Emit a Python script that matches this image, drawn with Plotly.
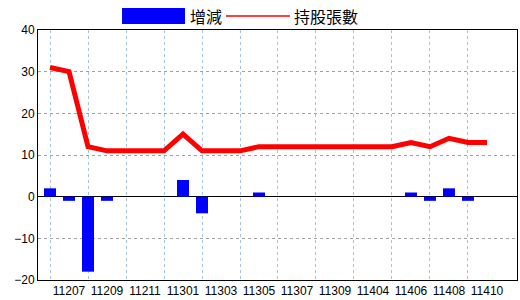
import plotly.graph_objects as go

months = ["11206", "11207", "11208", "11209", "11210", "11211", "11212", "11301",
          "11302", "11303", "11304", "11305", "11306", "11307", "11308", "11309",
          "11403", "11404", "11405", "11406", "11407", "11408", "11409", "11410"]
change = [2, -1, -18, -1, 0, 0, 0, 4, -4, 0, 0, 1, 0, 0, 0, 0,
          0, 0, 0, 1, -1, 2, -1, 0]
holders = [31, 30, 12, 11, 11, 11, 11, 15, 11, 11, 11, 12, 12, 12, 12, 12,
           12, 12, 12, 13, 12, 14, 13, 13]
y_ticks = [-20, -10, 0, 10, 20, 30, 40]

idx = list(range(len(months)))
label_idx = [i for i in idx if i % 2 == 1]
grid_idx = [i for i in idx if i % 2 == 0]

num_font = "Liberation Sans, Arial, sans-serif"
cjk_font = "Noto Sans CJK TC, sans-serif"

fig = go.Figure()
fig.add_trace(go.Bar(x=idx, y=change, marker=dict(color="#0000FF", line=dict(width=0)),
                     width=0.63, name="增減", showlegend=False))
fig.add_trace(go.Scatter(x=idx, y=holders, mode="lines",
                         line=dict(color="#FF0000", width=5), name="持股張數", showlegend=False))

fig.update_layout(
    width=520, height=300,
    margin=dict(l=38, r=3, t=30, b=20),
    paper_bgcolor="white", plot_bgcolor="white",
    font=dict(family=num_font, size=12, color="black"),
    xaxis=dict(
        range=[-0.632, 24.58],
        tickmode="array", tickvals=label_idx, ticktext=[months[i] for i in label_idx],
        showgrid=False, zeroline=False,
        showline=True, linecolor="black", linewidth=1, mirror=True,
        ticks="", ticklen=0,
        minor=dict(tickmode="array", tickvals=grid_idx, showgrid=True,
                   gridcolor="#a9c3d6", griddash="dot", gridwidth=1, ticks=""),
        tickfont=dict(size=12),
    ),
    yaxis=dict(
        range=[-20, 40], tickmode="array", tickvals=y_ticks,
        showgrid=True, gridcolor="#a0a0a0", griddash="dot", gridwidth=1,
        zeroline=True, zerolinecolor="black", zerolinewidth=1,
        showline=True, linecolor="black", linewidth=1, mirror=True,
        ticks="", tickfont=dict(size=12),
    ),
    bargap=0.37,
    showlegend=False,
)

# custom legend
fig.add_shape(type="rect", xref="paper", yref="paper",
              x0=0.1754, x1=0.3069, y0=1.024, y1=1.088,
              fillcolor="#0000FF", line=dict(width=0))
fig.add_annotation(xref="paper", yref="paper", x=0.313, y=1.056, text="增減",
                   showarrow=False, xanchor="left", yanchor="middle",
                   font=dict(family=cjk_font, size=16, color="black"))
fig.add_shape(type="line", xref="paper", yref="paper",
              x0=0.3925, x1=0.526, y0=1.056, y1=1.056,
              line=dict(color="#FF0000", width=1.5))
fig.add_annotation(xref="paper", yref="paper", x=0.530, y=1.056, text="持股張數",
                   showarrow=False, xanchor="left", yanchor="middle",
                   font=dict(family=cjk_font, size=16, color="black"))

fig.write_html("out.html")
